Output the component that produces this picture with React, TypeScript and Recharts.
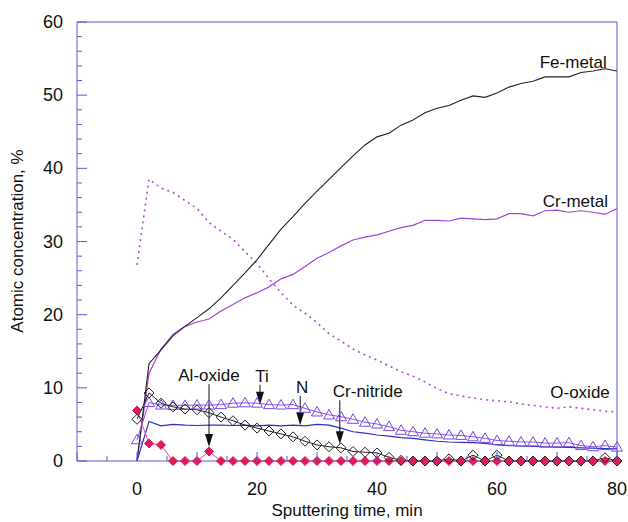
import React from "react";
import { LineChart, Line, XAxis, YAxis, ReferenceLine, ReferenceDot } from "recharts";

const AXIS = "#5a58dc";
const FONT = "'Liberation Sans', Arial, Helvetica, sans-serif";

// sputtering time, min (one reading every 2 min)
const time = [0, 2, 4, 6, 8, 10, 12, 14, 16, 18, 20, 22, 24, 26, 28, 30, 32, 34, 36, 38, 40,
  42, 44, 46, 48, 50, 52, 54, 56, 58, 60, 62, 64, 66, 68, 70, 72, 74, 76, 78, 80];

const feMetal = [0, 13.3, 15.2, 17.1, 18.4, 19.6, 20.8, 22.3, 24.0, 25.7, 27.5, 29.6, 31.7, 33.4, 35.2,
  36.9, 38.5, 40.1, 41.7, 43.2, 44.3, 44.8, 45.9, 46.6, 47.6, 48.2, 48.6, 49.3, 49.9, 49.7, 50.3,
  51.1, 51.6, 51.9, 52.5, 52.5, 52.5, 53.1, 53.3, 53.6, 53.3];

const crMetal = [0, 12.0, 15.3, 17.3, 18.4, 19.0, 19.4, 20.5, 21.4, 22.3, 23.0, 23.8, 24.9, 25.5, 26.6,
  27.7, 28.5, 29.4, 30.2, 30.6, 30.9, 31.4, 31.9, 32.2, 32.9, 32.9, 32.8, 33.2, 33.1, 33.0, 33.1,
  33.8, 33.8, 33.5, 34.2, 34.3, 34.0, 34.2, 34.0, 33.7, 34.5];

const oOxide = [26.8, 38.5, 37.3, 36.7, 35.6, 34.5, 32.6, 31.4, 30.3, 28.6, 27.0, 24.9, 23.0, 21.3, 20.2,
  18.9, 17.4, 16.4, 15.3, 14.5, 13.8, 13.0, 12.2, 11.6, 10.8, 9.9, 9.2, 8.9, 8.6, 8.4, 8.2,
  8.1, 7.8, 7.6, 7.4, 7.2, 7.4, 7.2, 7.0, 6.8, 6.7];

const ti = [2.9, 8.0, 7.65, 7.6, 7.6, 7.65, 7.65, 7.7, 7.9, 7.95, 7.9, 7.7, 7.65, 7.7, 7.2,
  6.7, 6.3, 6.05, 5.7, 5.3, 5.05, 4.7, 4.2, 4.0, 3.8, 3.7, 3.55, 3.5, 3.3, 3.1, 2.8,
  2.7, 2.6, 2.6, 2.45, 2.45, 2.5, 2.1, 1.95, 2.1, 1.9];

const nitrogen = [0, 5.4, 4.8, 5.0, 4.9, 4.85, 4.9, 4.9, 4.85, 4.9, 4.8, 4.9, 4.8, 4.9, 4.8,
  5.0, 4.9, 4.5, 4.0, 3.8, 3.55, 3.4, 3.2, 3.1, 2.9, 2.7, 2.6, 2.55, 2.5, 2.4, 2.2,
  2.1, 2.05, 2.0, 1.95, 1.9, 1.85, 1.8, 1.75, 1.7, 1.65];

const crNitride = [5.7, 9.3, 7.9, 7.4, 7.1, 7.0, 6.6, 6.0, 5.5, 4.9, 4.5, 4.1, 3.7, 3.3, 2.7,
  2.2, 1.95, 1.8, 1.3, 1.2, 1.1, 0.5, 0.1, 0, 0, 0, 0.3, 0, 0.8, 0, 0.8,
  0, 0, 0, 0, 0, 0, 0, 0, 0.45, 0];

const alOxide = [6.9, 2.4, 2.2, 0, 0, 0, 1.3, 0, 0, 0, 0, 0, 0, 0, 0,
  0, 0, 0, 0, 0, 0, 0, 0, 0, 0, 0, 0, 0, 0, 0, 0,
  0, 0, 0, 0, 0, 0, 0, 0, 0, 0];

const xTicks = [-10, -5, 0, 5, 10, 15, 20, 25, 30, 35, 40, 45, 50, 55, 60, 65, 70, 75, 80];
const xLabels = [0, 20, 40, 60, 80];
const yTicks = Array.from({ length: 31 }, (_, i) => i * 2);
const yLabels = [0, 10, 20, 30, 40, 50, 60];

// curve names written at the right end of each curve
const curveNames = [
  { text: "Fe-metal", x: 78.3, y: 53.7 },
  { text: "Cr-metal", x: 78.5, y: 34.7 },
  { text: "O-oxide", x: 78.8, y: 8.6 },
];

// labelled arrows: x, start y, tip y
const arrows = [
  { text: "Al-oxide", x: 12, from: 10.5, to: 1.9, anchor: "middle", dx: 0 },
  { text: "Ti", x: 20.5, from: 10.4, to: 7.7, anchor: "middle", dx: 2 },
  { text: "N", x: 27.2, from: 8.9, to: 4.9, anchor: "middle", dx: 2 },
  { text: "Cr-nitride", x: 33.8, from: 8.3, to: 2.3, anchor: "start", dx: -7 },
];

const data = time.map((t, i) => ({
  t,
  fe: feMetal[i],
  cr: crMetal[i],
  o: oOxide[i],
  ti: ti[i],
  n: nitrogen[i],
  crn: crNitride[i],
  al: alOxide[i],
}));

const XTick = (props: any) => {
  const { x, y, payload } = props;
  const v = payload.value;
  const len = v % 10 === 0 ? 9 : 5;
  return (
    <g>
      <line x1={x} y1={y} x2={x} y2={y - len} stroke={AXIS} />
      {xLabels.includes(v) && (
        <text x={x} y={y + 34} textAnchor="middle" fontSize={18} fontFamily={FONT} fill="#111">
          {v}
        </text>
      )}
    </g>
  );
};

const YTick = (props: any) => {
  const { x, y, payload } = props;
  const v = payload.value;
  const len = v % 10 === 0 ? 10 : 5;
  return (
    <g>
      <line x1={x} y1={y} x2={x + len} y2={y} stroke={AXIS} />
      {yLabels.includes(v) && (
        <text x={x - 14} y={y + 6} textAnchor="end" fontSize={18} fontFamily={FONT} fill="#111">
          {v}
        </text>
      )}
    </g>
  );
};

const diamond = (fill: string, stroke: string, r: number) => (p: any) => {
  const { cx, cy, index } = p;
  return (
    <polygon
      key={`d-${stroke}-${index}`}
      points={`${cx},${cy - r} ${cx + r},${cy} ${cx},${cy + r} ${cx - r},${cy}`}
      fill={fill}
      stroke={stroke}
      strokeWidth={1}
    />
  );
};

const triangle = (p: any) => {
  const { cx, cy, index } = p;
  return (
    <polygon
      key={`t-${index}`}
      points={`${cx},${cy - 5.5} ${cx + 5.5},${cy + 4} ${cx - 5.5},${cy + 4}`}
      fill="none"
      stroke="#7a46e2"
      strokeWidth={1}
    />
  );
};

const arrowShape = (a: any) => (p: any) => {
  const { x1, y1, x2, y2 } = p;
  return (
    <g>
      <line x1={x1} y1={y1} x2={x2} y2={y2 - 10} stroke="#111" strokeWidth={1} />
      <polygon points={`${x2 - 4},${y2 - 13} ${x2 + 4},${y2 - 13} ${x2},${y2}`} fill="#111" />
      <text x={x1 + a.dx} y={y1 - 3} textAnchor={a.anchor} fontSize={17} fontFamily={FONT} fill="#111">
        {a.text}
      </text>
    </g>
  );
};

export default function App() {
  return (
    <div style={{ position: "absolute", left: 0, top: 0, background: "#fff" }}>
      <LineChart width={628} height={522} data={data} margin={{ top: 22, right: 11, bottom: 0, left: 0 }}>
        <XAxis
          type="number"
          dataKey="t"
          domain={[-10, 80]}
          ticks={xTicks}
          interval={0}
          height={61}
          tickSize={0}
          tickMargin={0}
          tickLine={false}
          tick={<XTick />}
          axisLine={{ stroke: AXIS }}
          label={{
            content: () => (
              <text x={347} y={516} textAnchor="middle" fontSize={17} fontFamily={FONT} fill="#111">
                Sputtering time, min
              </text>
            ),
          }}
        />
        <YAxis
          type="number"
          domain={[0, 60]}
          ticks={yTicks}
          interval={0}
          width={77}
          tickSize={0}
          tickMargin={0}
          tickLine={false}
          tick={<YTick />}
          axisLine={{ stroke: AXIS }}
          label={{
            content: () => (
              <text
                x={17}
                y={241}
                transform="rotate(-90 17 241)"
                textAnchor="middle"
                dominantBaseline="central"
                fontSize={17}
                fontFamily={FONT}
                fill="#111"
              >
                Atomic concentration, %
              </text>
            ),
          }}
        />
        <ReferenceLine y={60} stroke={AXIS} />
        <ReferenceLine x={80} stroke={AXIS} />

        <Line dataKey="o" stroke="#b04ad8" strokeWidth={1.6} strokeDasharray="2 4" dot={false} isAnimationActive={false} />
        <Line dataKey="cr" stroke="#a243d8" strokeWidth={1.2} dot={false} isAnimationActive={false} />
        <Line dataKey="fe" stroke="#222" strokeWidth={1.1} dot={false} isAnimationActive={false} />
        <Line dataKey="n" stroke="#2f2fcc" strokeWidth={1.2} dot={false} isAnimationActive={false} />
        <Line dataKey="ti" stroke="#8c55e6" strokeWidth={1} dot={triangle} isAnimationActive={false} />
        <Line dataKey="al" stroke="#e8507c" strokeWidth={1} dot={diamond("#e0195a", "#e0195a", 4.5)} isAnimationActive={false} />
        <Line dataKey="crn" stroke="#222" strokeWidth={1} dot={diamond("none", "#222", 5)} isAnimationActive={false} />

        {arrows.map((a) => (
          <ReferenceLine
            key={a.text}
            segment={[{ x: a.x, y: a.from }, { x: a.x, y: a.to }]}
            shape={arrowShape(a)}
          />
        ))}
        {curveNames.map((c) => (
          <ReferenceDot
            key={c.text}
            x={c.x}
            y={c.y}
            r={0}
            shape={(p: any) => (
              <text x={p.cx} y={p.cy} textAnchor="end" fontSize={17} fontFamily={FONT} fill="#111">
                {c.text}
              </text>
            )}
          />
        ))}
      </LineChart>
    </div>
  );
}
